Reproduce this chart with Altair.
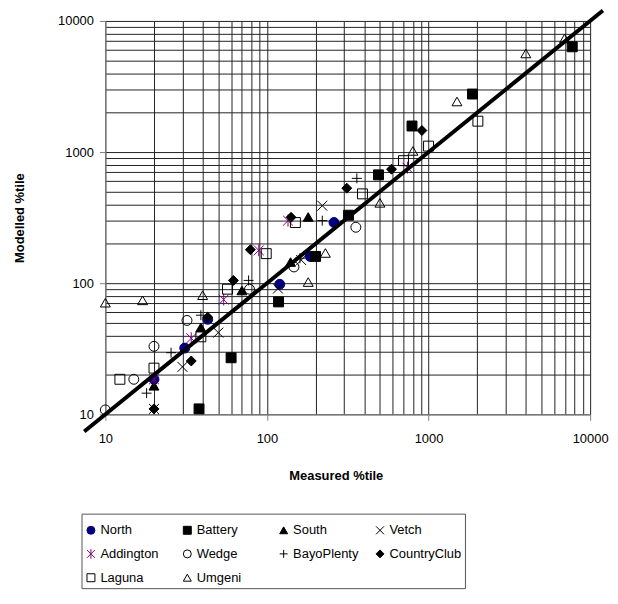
import altair as alt
import pandas as pd

# ---- data ----
series_names = ["North", "Battery", "South", "Vetch", "Addington", "Wedge",
                "BayoPlenty", "CountryClub", "Laguna", "Umgeni"]

north_x = [20, 31, 43, 120, 185, 260]
north_y = [18.5, 32, 53, 98, 160, 290]

battery_x = [38, 60, 118, 200, 320, 490, 790, 1870, 7750]
battery_y = [11, 27, 72, 160, 330, 670, 1580, 2770, 6350]

south_x = [20, 39, 70, 140, 180]
south_y = [16.5, 46, 88, 145, 320]

vetch_x = [20, 30, 50, 117, 163, 220]
vetch_y = [11, 23, 42, 91, 150, 390]

addington_x = [20, 34, 54, 89, 135, 740]
addington_y = [18.5, 38, 75, 178, 300, 760]

wedge_x = [10, 15, 20, 32, 78, 147, 355]
wedge_y = [10.8, 18.5, 33, 52, 90, 133, 267]

bayo_x = [18, 25.5, 39, 77, 160, 220, 360]
bayo_y = [14.5, 29.5, 57, 105, 155, 300, 630]

country_x = [20, 34, 43, 62, 79, 141, 312, 590, 910]
country_y = [11, 25.5, 55, 105, 180, 318, 530, 740, 1460]

laguna_x = [12.3, 20, 39, 57, 99, 150, 390, 700, 1000, 2020]
laguna_y = [18.5, 22.5, 39, 90, 168, 290, 480, 860, 1110, 1720]

umgeni_x = [10, 17, 40, 180, 230, 500, 800, 1500, 4000, 6950]
umgeni_y = [71, 74, 81, 102, 170, 410, 1020, 2430, 5650, 7350]

line_x = [7.4, 12000]
line_y = [7.4, 12000]

series_data = [
    ("North", north_x, north_y),
    ("Battery", battery_x, battery_y),
    ("South", south_x, south_y),
    ("Vetch", vetch_x, vetch_y),
    ("Addington", addington_x, addington_y),
    ("Wedge", wedge_x, wedge_y),
    ("BayoPlenty", bayo_x, bayo_y),
    ("CountryClub", country_x, country_y),
    ("Laguna", laguna_x, laguna_y),
    ("Umgeni", umgeni_x, umgeni_y),
]

rows = []
for name, xs, ys in series_data:
    for xv, yv in zip(xs, ys):
        rows.append({"series": name, "measured": xv, "modelled": yv})
df = pd.DataFrame(rows)
line_df = pd.DataFrame({"measured": line_x, "modelled": line_y})

# ---- styling ----
X_PATH = "M-1,-1L1,1M-1,1L1,-1"
PLUS_PATH = "M-1,0L1,0M0,-1L0,1"
AST_PATH = "M-1,-1L1,1M-1,1L1,-1M0,-1.2L0,1.2"

shapes = ["circle", "square", "triangle-up", X_PATH, AST_PATH, "circle",
          PLUS_PATH, "diamond", "square", "triangle-up"]
fills = ["#000080", "black", "black", "transparent", "transparent", "transparent",
         "transparent", "black", "transparent", "transparent"]
strokes = ["#000080", "black", "black", "black", "#800080", "black",
           "black", "black", "black", "black"]

grid_vals = [m * d for d in [10, 100, 1000] for m in range(1, 10)] + [10000]
major_test = "indexof([10,100,1000,10000], datum.value) >= 0"
FONT = "Liberation Sans"

xscale = alt.Scale(type="log", domain=[10, 10000], nice=False)
yscale = alt.Scale(type="log", domain=[10, 10000], nice=False)

x_axis = alt.Axis(
    values=grid_vals, labelExpr=f"{major_test} ? datum.label : ''",
    labelOverlap=False, labelFlush=False, grid=True, gridColor="#222",
    gridWidth=1, tickColor="#808080", tickSize=6,
    tickOpacity={"condition": {"test": major_test, "value": 1}, "value": 0},
    domainColor="#808080", labelFont=FONT, labelFontSize=13, labelColor="black",
    labelPadding=12, title="Measured %tile", titleFont=FONT, titleFontSize=13,
    titleFontWeight="bold", titleColor="black", titleX=232, titleY=62,
    titleBaseline="middle", titleAnchor="middle", format="d")
y_axis = alt.Axis(
    values=grid_vals, labelExpr=f"{major_test} ? datum.label : ''",
    labelOverlap=False, labelFlush=False, grid=True, gridColor="#222",
    gridWidth=1, tickColor="#808080", tickSize=6,
    tickOpacity={"condition": {"test": major_test, "value": 1}, "value": 0},
    domainColor="#808080", labelFont=FONT, labelFontSize=13, labelColor="black",
    labelPadding=6, title="Modelled %tile", titleFont=FONT, titleFontSize=13,
    titleFontWeight="bold", titleColor="black", titleX=-86, titleY=198,
    titleBaseline="middle", titleAnchor="middle", format="d")

legend = alt.Legend(
    orient="none", legendX=-24, legendY=496, columns=4, direction="horizontal",
    title=" ", titleFontSize=3, titlePadding=4,
    strokeColor="#555", padding=3, fillColor="white",
    symbolSize=64, symbolStrokeWidth=1, labelFont=FONT, labelFontSize=13,
    labelColor="black", gridAlign="all", columnPadding=8, rowPadding=9,
    labelOffset=3)

points = alt.Chart(df).mark_point(size=100, strokeWidth=1, opacity=1).encode(
    x=alt.X("measured:Q", scale=xscale, axis=x_axis),
    y=alt.Y("modelled:Q", scale=yscale, axis=y_axis),
    shape=alt.Shape("series:N", scale=alt.Scale(domain=series_names, range=shapes),
                    legend=legend),
    fill=alt.Fill("series:N", scale=alt.Scale(domain=series_names, range=fills),
                  legend=legend),
    stroke=alt.Stroke("series:N", scale=alt.Scale(domain=series_names, range=strokes),
                      legend=legend),
)

diag = alt.Chart(line_df).mark_line(color="black", strokeWidth=4, clip=False).encode(
    x=alt.X("measured:Q", scale=xscale),
    y=alt.Y("modelled:Q", scale=yscale),
)

chart = alt.layer(points, diag).properties(
    width=488, height=396,
    autosize=alt.AutoSizeParams(type="none"),
    padding={"left": 98, "top": 11, "right": 20, "bottom": 200},
).configure_view(stroke=None)

chart.save("out.html", embed_options={"renderer": "svg", "actions": False})
